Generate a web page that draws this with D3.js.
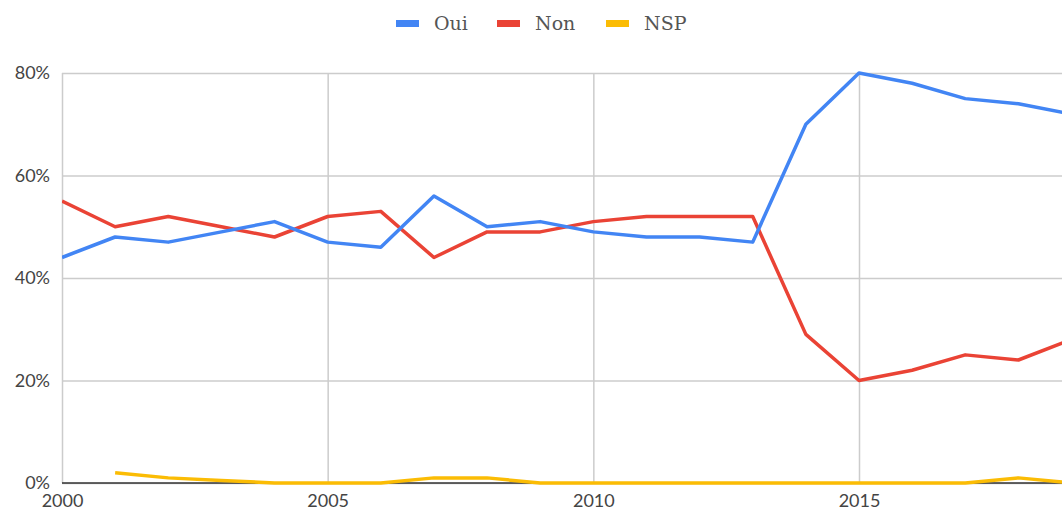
<!DOCTYPE html>
<html><head><meta charset="utf-8">
<script src="https://cdn.jsdelivr.net/npm/d3@7"></script>
<style>
html,body{margin:0;padding:0;background:#fff;overflow:hidden;}
</style></head>
<body><svg id="c" width="1062" height="515"></svg>
<script>
const years = [2000,2001,2002,2003,2004,2005,2006,2007,2008,2009,2010,2011,2012,2013,2014,2015,2016,2017,2018,2019];
const oui = [44,48,47,49,51,47,46,56,50,51,49,48,48,47,70,80,78,75,74,72];
const non = [55,50,52,50,48,52,53,44,49,49,51,52,52,52,29,20,22,25,24,28];
const nsp = [null,2,1,0.5,0,0,0,1,1,0,0,0,0,0,0,0,0,0,1,0];
const seriesNames = ["Oui","Non","NSP"];
const colors = ["#4285F4","#EA4335","#FBBC04"];
const yTicks = [0,20,40,60,80];
const xTicks = [2000,2005,2010,2015];

(function(){
const svg = d3.select("#c");
const pLeft = 62, pTop = 73, pBottom = 483;
const x = d3.scaleLinear().domain([2000,2015]).range([pLeft, 859]);
const y = d3.scaleLinear().domain([0,80]).range([pBottom, pTop]);

svg.append("defs").append("clipPath").attr("id","clip")
  .append("rect").attr("x",pLeft).attr("y",0).attr("width",1062-pLeft).attr("height",515);

const yAxis = d3.axisLeft(y).tickValues(yTicks).tickSize(-(1062-pLeft)).tickFormat(d=>d+"%").tickPadding(12);
const ga = svg.append("g").attr("transform",`translate(${pLeft},0)`).call(yAxis);
ga.select(".domain").remove();
ga.selectAll(".tick line").attr("stroke","#cccccc").attr("stroke-width",1.5);
ga.selectAll(".tick text").attr("font-family","Lato, sans-serif").attr("font-size",18).attr("fill","#444");

const xAxis = d3.axisBottom(x).tickValues(xTicks).tickSize(-(pBottom-pTop)).tickFormat(d3.format("d")).tickPadding(11);
const gx = svg.append("g").attr("transform",`translate(0,${pBottom})`).call(xAxis);
gx.select(".domain").remove();
gx.selectAll(".tick line").attr("stroke","#cccccc").attr("stroke-width",1.5);
gx.selectAll(".tick text").attr("font-family","Lato, sans-serif").attr("font-size",18).attr("fill","#444");

svg.append("line").attr("x1",pLeft).attr("x2",1062).attr("y1",y(0)).attr("y2",y(0)).attr("stroke","#333").attr("stroke-width",1.5);

const all = [oui, non, nsp];
const line = d3.line().defined(d=>d.v!==null).x(d=>x(d.yr)).y(d=>y(d.v));
const gl = svg.append("g").attr("clip-path","url(#clip)");
[2,1,0].forEach(i=>{
  const data = years.map((yr,k)=>({yr, v: all[i][k]}));
  gl.append("path").datum(data).attr("d",line).attr("fill","none")
    .attr("stroke",colors[i]).attr("stroke-width",3.5).attr("stroke-linejoin","round");
});

const legX = [396, 497, 606];
seriesNames.forEach((n,i)=>{
  svg.append("rect").attr("x",legX[i]).attr("y",20).attr("width",23).attr("height",7).attr("fill",colors[i]);
  svg.append("text").attr("x",legX[i]+38).attr("y",30).text(n)
    .attr("font-family","'DejaVu Serif', serif").attr("font-size",19).attr("fill","#555");
});
})();
</script></body></html>
